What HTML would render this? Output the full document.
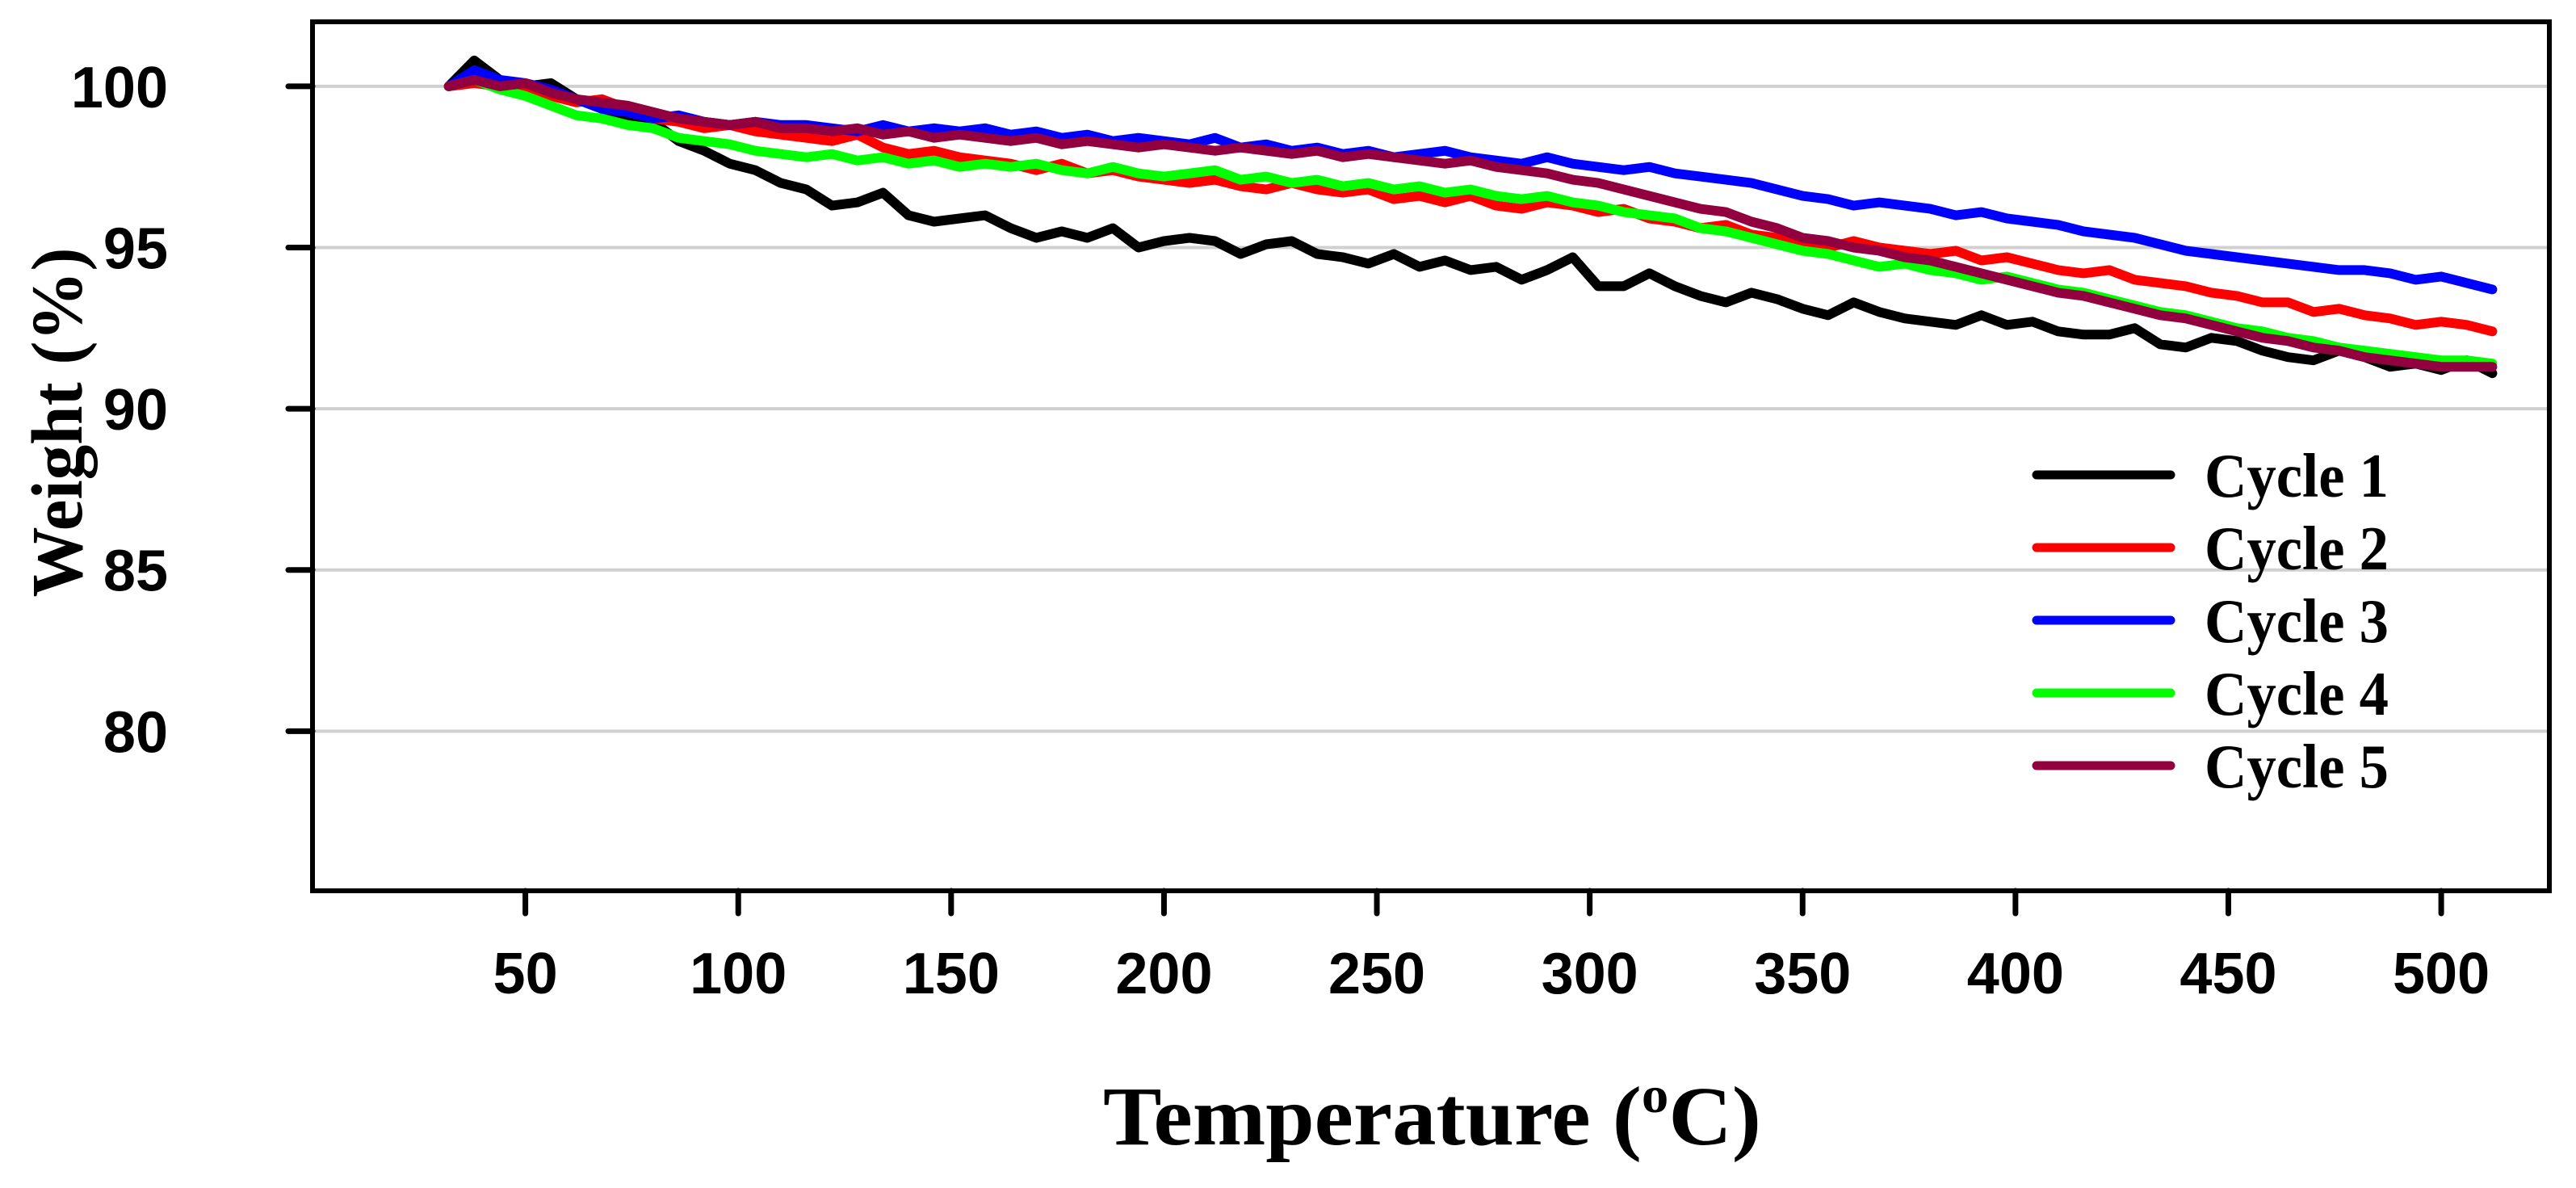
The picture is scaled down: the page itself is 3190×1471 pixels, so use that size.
<!DOCTYPE html>
<html><head><meta charset="utf-8"><style>
html,body{margin:0;padding:0;background:#fff;}
svg{display:block;}
</style></head><body>
<svg id="chart" width="3190" height="1471" viewBox="0 0 3190 1471" xmlns="http://www.w3.org/2000/svg">
<rect width="3190" height="1471" fill="#fff"/>
<g id="grid"></g>
<g id="series"></g>
<g id="axes"></g>
<g id="legend"></g>
</svg>
<script>
const temps = [32,38,44,50,56,62,68,74,80,86,92,98,104,110,116,122,128,134,140,146,152,158,164,170,176,182,188,194,200,206,212,218,224,230,236,242,248,254,260,266,272,278,284,290,296,302,308,314,320,326,332,338,344,350,356,362,368,374,380,386,392,398,404,410,416,422,428,434,440,446,452,458,464,470,476,482,488,494,500,506,512];
const cycle1 = [100.0,100.8,100.2,100.0,100.1,99.6,99.3,99.0,98.9,98.3,98.0,97.6,97.4,97.0,96.8,96.3,96.4,96.7,96.0,95.8,95.9,96.0,95.6,95.3,95.5,95.3,95.6,95.0,95.2,95.3,95.2,94.8,95.1,95.2,94.8,94.7,94.5,94.8,94.4,94.6,94.3,94.4,94.0,94.3,94.7,93.8,93.8,94.2,93.8,93.5,93.3,93.6,93.4,93.1,92.9,93.3,93.0,92.8,92.7,92.6,92.9,92.6,92.7,92.4,92.3,92.3,92.5,92.0,91.9,92.2,92.1,91.8,91.6,91.5,91.8,91.6,91.3,91.4,91.2,91.5,91.1];
const cycle2 = [100.0,100.1,100.0,99.9,99.7,99.5,99.6,99.3,99.0,98.9,98.7,98.8,98.6,98.5,98.4,98.3,98.5,98.1,97.9,98.0,97.8,97.7,97.6,97.4,97.6,97.3,97.4,97.2,97.1,97.0,97.1,96.9,96.8,97.0,96.8,96.7,96.8,96.5,96.6,96.4,96.6,96.3,96.2,96.4,96.3,96.1,96.2,95.9,95.8,95.6,95.7,95.4,95.3,95.2,95.0,95.2,95.0,94.9,94.8,94.9,94.6,94.7,94.5,94.3,94.2,94.3,94.0,93.9,93.8,93.6,93.5,93.3,93.3,93.0,93.1,92.9,92.8,92.6,92.7,92.6,92.4];
const cycle3 = [100.0,100.5,100.2,100.1,99.9,99.6,99.3,99.2,99.0,99.1,98.9,98.8,98.9,98.8,98.8,98.7,98.6,98.8,98.6,98.7,98.6,98.7,98.5,98.6,98.4,98.5,98.3,98.4,98.3,98.2,98.4,98.1,98.2,98.0,98.1,97.9,98.0,97.8,97.9,98.0,97.8,97.7,97.6,97.8,97.6,97.5,97.4,97.5,97.3,97.2,97.1,97.0,96.8,96.6,96.5,96.3,96.4,96.3,96.2,96.0,96.1,95.9,95.8,95.7,95.5,95.4,95.3,95.1,94.9,94.8,94.7,94.6,94.5,94.4,94.3,94.3,94.2,94.0,94.1,93.9,93.7];
const cycle4 = [100.0,100.2,99.9,99.7,99.4,99.1,99.0,98.8,98.7,98.4,98.3,98.2,98.0,97.9,97.8,97.9,97.7,97.8,97.6,97.7,97.5,97.6,97.5,97.6,97.4,97.3,97.5,97.3,97.2,97.3,97.4,97.1,97.2,97.0,97.1,96.9,97.0,96.8,96.9,96.7,96.8,96.6,96.5,96.6,96.4,96.3,96.1,96.0,95.9,95.6,95.5,95.3,95.1,94.9,94.8,94.6,94.4,94.5,94.3,94.2,94.0,94.1,93.9,93.7,93.6,93.4,93.2,93.0,92.9,92.7,92.5,92.4,92.2,92.1,91.9,91.8,91.7,91.6,91.5,91.5,91.4];
const cycle5 = [100.0,100.2,100.0,100.1,99.8,99.6,99.5,99.4,99.2,99.0,98.9,98.8,98.9,98.7,98.7,98.6,98.7,98.5,98.6,98.4,98.5,98.4,98.3,98.4,98.2,98.3,98.2,98.1,98.2,98.1,98.0,98.1,98.0,97.9,98.0,97.8,97.9,97.8,97.7,97.6,97.7,97.5,97.4,97.3,97.1,97.0,96.8,96.6,96.4,96.2,96.1,95.8,95.6,95.3,95.2,95.0,94.9,94.7,94.6,94.4,94.2,94.0,93.8,93.6,93.5,93.3,93.1,92.9,92.8,92.6,92.4,92.2,92.1,91.9,91.8,91.6,91.5,91.4,91.3,91.3,91.3];
const seriesNames = ["Cycle 1","Cycle 2","Cycle 3","Cycle 4","Cycle 5"];
const seriesColors = ["#000000","#ff0000","#0000ff","#00ff00","#930040"];
const xTicks = [50,100,150,200,250,300,350,400,450,500];
const yTicks = [80,85,90,95,100];

const NS = "http://www.w3.org/2000/svg";
const L = 387, R = 3157, T = 27, B = 1103;
const X0 = 0, X1 = 525.4, Y0 = 75.05, Y1 = 102;
function sx(v){ return L + (v - X0) / (X1 - X0) * (R - L); }
function sy(v){ return B - (v - Y0) / (Y1 - Y0) * (B - T); }
function mk(tag, attrs, parent){
  const e = document.createElementNS(NS, tag);
  for (const k in attrs) e.setAttribute(k, attrs[k]);
  parent.appendChild(e); return e;
}
const grid = document.getElementById('grid');
const axes = document.getElementById('axes');
const seriesG = document.getElementById('series');
const legend = document.getElementById('legend');

yTicks.forEach(v => {
  const g = mk('line', {x1:L, x2:R, y1:sy(v), y2:sy(v), stroke:'#d0d0d0', 'stroke-width':4}, grid);
  
  
  const t = mk('line', {x1:L-30, x2:L, y1:sy(v), y2:sy(v), stroke:'#000', 'stroke-width':7, 'stroke-linecap':'round'}, axes);
  
  
  const lb = mk('text', {x:208, y:sy(v)+26, 'text-anchor':'end', 'font-family':'Liberation Sans, sans-serif', 'font-weight':'bold', 'font-size':72, fill:'#000'}, axes);
  lb.textContent = v;
  
  
});
xTicks.forEach(v => {
  const t = mk('line', {x1:sx(v), x2:sx(v), y1:B, y2:B+28, stroke:'#000', 'stroke-width':7, 'stroke-linecap':'round'}, axes);
  
  
  const lb = mk('text', {x:sx(v), y:1230, 'text-anchor':'middle', 'font-family':'Liberation Sans, sans-serif', 'font-weight':'bold', 'font-size':72, fill:'#000'}, axes);
  lb.textContent = v;
  
  
});
const frame = mk('rect', {x:L, y:T, width:R-L, height:B-T, fill:'none', stroke:'#000', 'stroke-width':6}, axes);



const xt = mk('text', {x:1366, y:1417, 'font-family':'Liberation Serif, serif', 'font-weight':'bold', 'font-size':104, fill:'#000', textLength:815, lengthAdjust:'spacingAndGlyphs'}, axes);
xt.innerHTML = 'Temperature (<tspan dy="-40" font-size="64">o</tspan><tspan dy="40">C)</tspan>';



const yt = mk('text', {x:0, y:0, 'text-anchor':'middle', 'font-family':'Liberation Serif, serif', 'font-weight':'bold', 'font-size':90, fill:'#000', transform:'translate(101,523) rotate(-90)', textLength:433, lengthAdjust:'spacingAndGlyphs'}, axes);
yt.textContent = 'Weight (%)';



const allSeries = [cycle1, cycle2, cycle3, cycle4, cycle5];
allSeries.forEach((vals, i) => {
  const n = Math.min(vals.length, temps.length);
  let d = '';
  for (let k = 0; k < n; k++) d += (k ? 'L' : 'M') + sx(temps[k]).toFixed(1) + ',' + sy(vals[k]).toFixed(1);
  const p = mk('path', {d:d, fill:'none', stroke:seriesColors[i], 'stroke-width':12, 'stroke-linejoin':'round', 'stroke-linecap':'round'}, seriesG);
  
  
});

seriesNames.forEach((name, i) => {
  const y = 588 + i * 90;
  const ln = mk('line', {x1:2522, x2:2688, y1:y, y2:y, stroke:seriesColors[i], 'stroke-width':11, 'stroke-linecap':'round'}, legend);
  
  
  const tx = mk('text', {x:2730, y:y+27, 'font-family':'Liberation Serif, serif', 'font-weight':'bold', 'font-size':77, fill:'#000', textLength:228, lengthAdjust:'spacingAndGlyphs'}, legend);
  tx.textContent = name;
  
  
});
</script>
</body></html>
